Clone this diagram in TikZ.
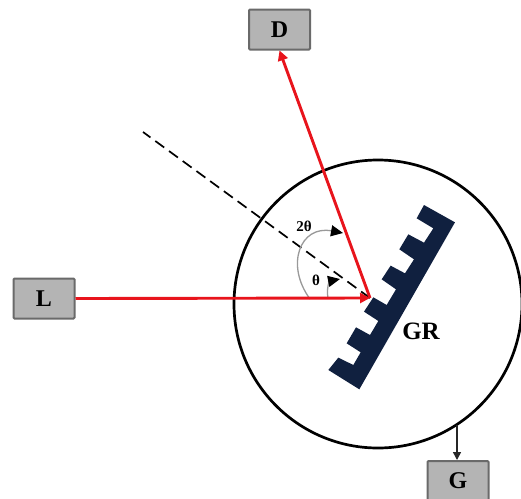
\documentclass[tikz,border=0pt]{standalone}
\usepackage{fontspec}
\setmainfont{Liberation Serif}
\usetikzlibrary{arrows.meta}
\definecolor{gratingblue}{HTML}{10203F}
\definecolor{boxfill}{HTML}{B4B4B4}
\definecolor{boxedge}{HTML}{6A6A6A}
\definecolor{beamred}{HTML}{E8141C}
\tikzset{
  x=1pt,y=-1pt,
  devicebox/.style={draw=boxedge,fill=boxfill,line width=2pt,rounded corners=1pt,minimum width=61pt,minimum height=40pt,inner sep=0pt,font=\bfseries\fontsize{24}{26}\selectfont},
  beam/.style={draw=beamred,line width=2.9pt,-{Triangle[length=10pt,width=10pt]}},
  anglearc/.style={draw=gray!80,line width=1.3pt,-{Triangle[black,length=12pt,width=11pt]}},
  anglelabel/.style={font=\bfseries\fontsize{15}{17}\selectfont,inner sep=0pt},
}
\begin{document}
\begin{tikzpicture}
\useasboundingbox (0,0) rectangle (521,498);
\node[draw=black,line width=2.7pt,circle,minimum size=288pt,inner sep=0pt] (chamber) at (378,304) {};
\coordinate (focus) at (370,298);
\coordinate (far) at (143,132);
\draw[line width=1.7pt,dash pattern=on 11pt off 6pt] (focus) -- (far);
\begin{scope}[shift={(270,190)},x=0.3333pt,y=-0.3333pt]
\fill[gratingblue] (462,45)--(555,97)--(268,598)--(175,540)--(205,503)--(250,525)--(272,487)--(230,460)--(258,412)--(300,435)--(325,393)--(282,365)--(310,322)--(350,345)--(378,298)--(335,268)--(362,227)--(405,250)--(432,208)--(388,178)--(415,133)--(462,158)--(490,115)--(440,85)--cycle;
\end{scope}
\node[devicebox] (L) at (44,298.5) {L};
\node[devicebox] (D) at (279.5,29.5) {D};
\node[devicebox] (G) at (458,481) {G};
\coordinate (arcAstart) at (310,299);
\coordinate (arcAend) at (343,233);
\coordinate (arcBstart) at (328,298);
\coordinate (arcBend) at (340,279);
\draw[anglearc] (arcAstart) .. controls (285,265) and (300,225) .. (arcAend);
\draw[anglearc] (arcBstart) .. controls (326,288) and (330,281) .. (arcBend);
\draw[beam] (L.east) -- (focus);
\draw[beam] (focus) -- (D.south);
\coordinate (tap) at (457,425);
\draw[draw=black!85,line width=1.5pt,-{Triangle[length=8pt,width=8pt]}] (tap) -- (tap |- G.north);
\node[anglelabel] (twotheta) at (304,226) {2θ};
\node[anglelabel] (theta) at (316,280) {θ};
\node[font=\bfseries\fontsize{25}{27}\selectfont,inner sep=0pt] (GR) at (421,331) {GR};
\end{tikzpicture}
\end{document}
